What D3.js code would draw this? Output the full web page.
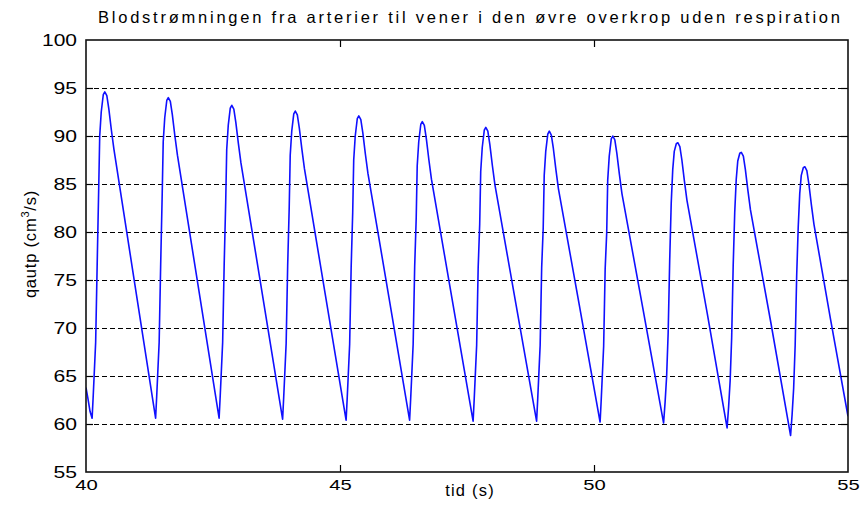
<!DOCTYPE html>
<html>
<head>
<meta charset="utf-8">
<script src="https://cdn.jsdelivr.net/npm/d3@7"></script>
<style>
  body { margin: 0; background: #fff; }
  svg text { font-family: "Liberation Sans", Arial, Helvetica, sans-serif; fill: #000; }
</style>
</head>
<body>
<svg id="chart" width="863" height="507"></svg>
<script>
// Labels
const titleText = "Blodstrømningen fra arterier til vener i den øvre overkrop uden respiration";
const xLabelText = "tid (s)";
const xTicks = [40, 45, 50, 55];
const yTicks = [55, 60, 65, 70, 75, 80, 85, 90, 95, 100];
const gridTicks = [60, 65, 70, 75, 80, 85, 90, 95];

// Flow samples: time (s) and qautp (cm^3/s), one row per heart beat
const time = [
  40.00, 40.04, 40.08,
  40.12, 40.14, 40.16, 40.19, 40.22, 40.25, 40.27, 40.30, 40.34, 40.37, 40.41, 40.45, 40.50, 40.55, 40.96,
  41.37, 41.39, 41.41, 41.44, 41.47, 41.50, 41.52, 41.55, 41.59, 41.62, 41.66, 41.70, 41.75, 41.80, 42.21,
  42.62, 42.64, 42.66, 42.69, 42.72, 42.75, 42.77, 42.80, 42.84, 42.87, 42.91, 42.95, 43.00, 43.05, 43.46,
  43.87, 43.89, 43.91, 43.94, 43.97, 44.00, 44.02, 44.05, 44.09, 44.12, 44.16, 44.20, 44.25, 44.30, 44.71,
  45.12, 45.14, 45.16, 45.19, 45.22, 45.25, 45.27, 45.30, 45.34, 45.37, 45.41, 45.45, 45.50, 45.55, 45.96,
  46.37, 46.39, 46.41, 46.44, 46.47, 46.50, 46.52, 46.55, 46.59, 46.62, 46.66, 46.70, 46.75, 46.80, 47.21,
  47.62, 47.64, 47.66, 47.69, 47.72, 47.75, 47.77, 47.80, 47.84, 47.87, 47.91, 47.95, 48.00, 48.05, 48.46,
  48.87, 48.89, 48.91, 48.94, 48.97, 49.00, 49.02, 49.05, 49.09, 49.12, 49.16, 49.20, 49.25, 49.30, 49.71,
  50.12, 50.14, 50.16, 50.19, 50.22, 50.25, 50.27, 50.30, 50.34, 50.37, 50.41, 50.45, 50.50, 50.55, 50.96,
  51.37, 51.40, 51.43, 51.46, 51.49, 51.52, 51.55, 51.58, 51.62, 51.65, 51.69, 51.73, 51.78, 51.83, 52.23,
  52.62, 52.65, 52.68, 52.71, 52.74, 52.77, 52.80, 52.83, 52.87, 52.90, 52.94, 52.98, 53.03, 53.08, 53.48,
  53.87, 53.90, 53.93, 53.96, 53.99, 54.02, 54.05, 54.08, 54.12, 54.15, 54.19, 54.23, 54.28, 54.33, 54.66, 55.00
];
const qautp = [
  63.8, 62.6, 61.3,
  60.6, 62.7, 65.0, 68.5, 76.6, 84.5, 90.0, 92.5, 94.3, 94.6, 94.2, 92.8, 90.6, 88.6, 74.6,
  60.6, 62.7, 65.0, 68.5, 76.6, 83.9, 89.4, 91.9, 93.7, 94.0, 93.6, 92.2, 90.0, 88.0, 74.3,
  60.6, 62.7, 65.0, 68.5, 76.6, 83.1, 88.6, 91.1, 92.9, 93.2, 92.8, 91.4, 89.2, 87.2, 73.9,
  60.5, 62.6, 64.9, 68.4, 76.5, 82.5, 88.0, 90.5, 92.3, 92.6, 92.2, 90.8, 88.6, 86.6, 73.5,
  60.4, 62.5, 64.8, 68.3, 76.4, 82.0, 87.5, 90.0, 91.8, 92.1, 91.7, 90.3, 88.1, 86.1, 73.3,
  60.4, 62.5, 64.8, 68.3, 76.4, 81.4, 86.9, 89.4, 91.2, 91.5, 91.1, 89.7, 87.5, 85.5, 72.9,
  60.3, 62.4, 64.7, 68.2, 76.3, 80.8, 86.3, 88.8, 90.6, 90.9, 90.5, 89.1, 86.9, 84.9, 72.6,
  60.3, 62.4, 64.7, 68.2, 76.3, 80.4, 85.9, 88.4, 90.2, 90.5, 90.1, 88.7, 86.5, 84.5, 72.4,
  60.2, 62.3, 64.6, 68.1, 76.2, 79.9, 85.4, 87.9, 89.7, 90.0, 89.6, 88.2, 86.0, 84.0, 72.1,
  60.1, 62.3, 65.0, 69.5, 77.0, 83.0, 86.5, 88.4, 89.2, 89.3, 88.9, 87.5, 85.3, 83.3, 71.5,
  59.6, 61.8, 64.5, 69.0, 76.5, 82.0, 85.5, 87.4, 88.2, 88.3, 87.9, 86.5, 84.3, 82.3, 70.6,
  58.8, 61.0, 63.7, 68.2, 75.5, 80.5, 84.0, 85.9, 86.7, 86.8, 86.4, 85.0, 82.8, 80.8, 70.8, 60.8
];

const svg = d3.select("#chart");
const W = 863, H = 507;
const plot = { left: 86, right: 848, top: 40, bottom: 472 };

svg.append("rect").attr("width", W).attr("height", H).attr("fill", "#fff");

const x = d3.scaleLinear().domain([40, 55]).range([plot.left, plot.right]);
const y = d3.scaleLinear().domain([55, 100]).range([plot.bottom, plot.top]);
const pw = plot.right - plot.left, ph = plot.bottom - plot.top;

// Dashed horizontal grid
const grid = svg.append("g")
  .attr("transform", `translate(${plot.left},0)`)
  .call(d3.axisLeft(y).tickValues(gridTicks).tickSize(-pw).tickFormat(""));
grid.select(".domain").remove();
grid.selectAll("line").attr("stroke", "#000").attr("stroke-width", 1)
  .attr("stroke-dasharray", "5,3").attr("shape-rendering", "crispEdges");

// Flow trace
svg.append("defs").append("clipPath").attr("id", "plotClip")
  .append("rect").attr("x", plot.left).attr("y", plot.top).attr("width", pw).attr("height", ph);

const line = d3.line().x(d => x(d[0])).y(d => y(d[1]));
svg.append("path")
  .datum(time.map((t, i) => [t, qautp[i]]))
  .attr("clip-path", "url(#plotClip)")
  .attr("fill", "none")
  .attr("stroke", "#1010ff")
  .attr("stroke-width", 1.6)
  .attr("stroke-linejoin", "round")
  .attr("d", line);

// Inward ticks on all four sides
function styleAxis(g) {
  g.selectAll(".domain").remove();
  g.selectAll("line").attr("stroke", "#000").attr("stroke-width", 1.2);
}
const innerX = xTicks.slice(1, -1);
const innerY = yTicks.slice(1, -1);

const xAxis = svg.append("g").attr("transform", `translate(0,${plot.bottom})`)
  .call(d3.axisBottom(x).tickValues(xTicks).tickSize(-7).tickSizeOuter(0).tickPadding(10));
styleAxis(xAxis);
xAxis.selectAll(".tick line").filter(d => !innerX.includes(d)).remove();
xAxis.selectAll("text")
  .attr("font-size", 14.5).attr("dy", null).attr("y", 18)
  .attr("textLength", 22.5).attr("lengthAdjust", "spacingAndGlyphs");

const xTop = svg.append("g").attr("transform", `translate(0,${plot.top})`)
  .call(d3.axisTop(x).tickValues(innerX).tickSize(-7).tickFormat(""));
styleAxis(xTop);

const yAxis = svg.append("g").attr("transform", `translate(${plot.left},0)`)
  .call(d3.axisLeft(y).tickValues(yTicks).tickSize(-7).tickSizeOuter(0).tickPadding(9));
styleAxis(yAxis);
yAxis.selectAll(".tick line").filter(d => !innerY.includes(d)).remove();
yAxis.selectAll("text")
  .attr("font-size", 16.5).attr("dy", "0.35em")
  .attr("textLength", d => String(d).length === 3 ? 35 : 23.5)
  .attr("lengthAdjust", "spacingAndGlyphs");

const yRight = svg.append("g").attr("transform", `translate(${plot.right},0)`)
  .call(d3.axisRight(y).tickValues(innerY).tickSize(-7).tickFormat(""));
styleAxis(yRight);

// Frame
svg.append("rect")
  .attr("x", plot.left).attr("y", plot.top).attr("width", pw).attr("height", ph)
  .attr("fill", "none").attr("stroke", "#111").attr("stroke-width", 1.6);

// Title
svg.append("text")
  .attr("x", 469).attr("y", 23)
  .attr("text-anchor", "middle")
  .attr("font-size", 16.5)
  .attr("textLength", 742).attr("lengthAdjust", "spacing")
  .text(titleText);

// X label
svg.append("text")
  .attr("x", 470).attr("y", 496)
  .attr("text-anchor", "middle")
  .attr("font-size", 16.5)
  .attr("letter-spacing", 1.2)
  .text(xLabelText);

// Y label with superscript
const yl = svg.append("text")
  .attr("transform", "translate(36,244) rotate(-90)")
  .attr("text-anchor", "middle")
  .attr("font-size", 16.5)
  .attr("letter-spacing", 0.8);
yl.append("tspan").text("qautp (cm");
yl.append("tspan").attr("font-size", 11).attr("dy", -7).text("3");
yl.append("tspan").attr("dy", 7).text("/s)");
</script>
</body>
</html>
